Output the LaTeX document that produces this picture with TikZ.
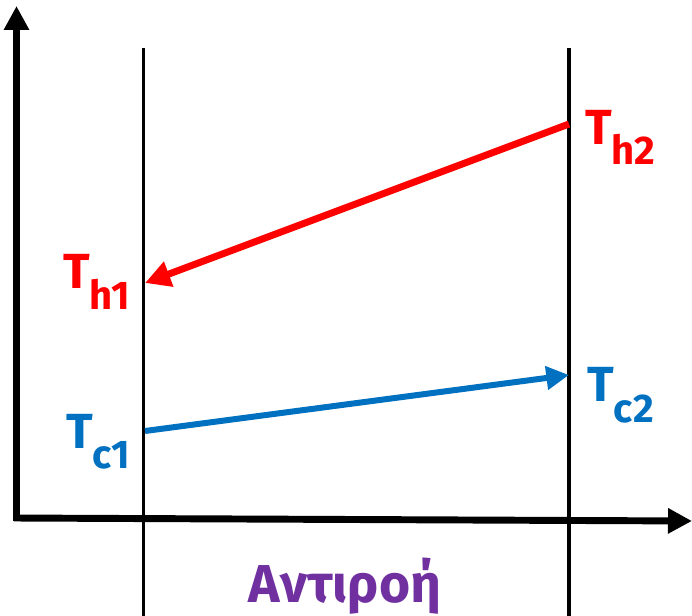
\documentclass[tikz,border=0pt]{standalone}
\usepackage{fontspec}
\setmainfont{Fira Sans}
\usetikzlibrary{arrows.meta,positioning}
\definecolor{hotred}{RGB}{255,0,0}
\definecolor{coldblue}{RGB}{0,112,192}
\definecolor{flowpurple}{RGB}{112,48,160}
\newcommand{\tlabel}[1]{T\kern-0.5pt\raisebox{-0.42em}{\fontsize{30}{30}\selectfont #1}}

\begin{document}
\begin{tikzpicture}[x=0.75pt,y=-0.75pt,
    axisline/.style={line width=5.2pt,-{Triangle[length=18pt,width=18pt]}},
    wall/.style={line width=2.6pt},
    templabel/.style={inner sep=0pt,font=\fontsize{37}{37}\selectfont\bfseries}]
    \useasboundingbox (0,0) rectangle (692,616);
    \coordinate (O) at (16.5,518);
    \coordinate (Ytop) at (16.5,6);
    \coordinate (Xend) at (692,521);
    \coordinate (W1top) at (143.5,48);
    \coordinate (W1bot) at (143.5,616);
    \coordinate (W2top) at (569,48);
    \coordinate (W2bot) at (569,616);
    \coordinate (h1) at (145,283);
    \coordinate (h2) at (569,124);
    \coordinate (c1) at (145,431);
    \coordinate (c2) at (569,375);
    \draw[axisline] ([yshift=-2pt]O) -- (Ytop);
    \draw[axisline] ([xshift=-2pt]O) -- (Xend);
    \draw[wall] (W1top) -- (W1bot);
    \draw[wall] (W2top) -- (W2bot);
    \draw[hotred,line width=5.2pt,-{Triangle[length=19pt,width=19pt]}] (h2) -- (h1);
    \draw[coldblue,line width=4.5pt,-{Triangle[length=17pt,width=17pt]}] (c1) -- (c2);
    \node[templabel,hotred,left=11pt of h1,yshift=1pt] (Th1) {\tlabel{h1}};
    \node[templabel,hotred,right=12pt of h2,yshift=-10pt] (Th2) {\tlabel{h2}};
    \node[templabel,coldblue,left=11pt of c1,yshift=-8pt] (Tc1) {\tlabel{c1}};
    \node[templabel,coldblue,right=14pt of c2,yshift=-15pt] (Tc2) {\tlabel{c2}};
    \node[templabel,flowpurple,font=\fontsize{40}{40}\selectfont\bfseries] (flow) at (345,586) {Αντιροή};
\end{tikzpicture}
\end{document}
